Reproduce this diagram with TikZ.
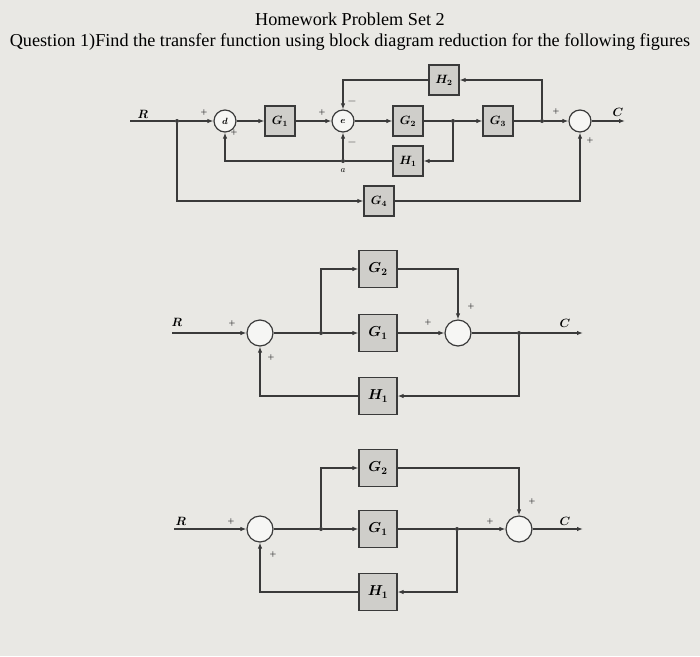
\documentclass[tikz,border=0pt]{standalone}
\usepackage{fontspec}
\setmainfont{Liberation Serif}
\usetikzlibrary{arrows.meta}
\definecolor{bg}{HTML}{E9E8E4}
\definecolor{boxc}{HTML}{CFCECA}
\definecolor{ln}{HTML}{3A3A3A}
\begin{document}
\begin{tikzpicture}[x=1pt,y=-1pt,
  blk/.style={draw=ln,fill=boxc,line width=1.2pt,minimum width=30pt,minimum height=30pt,inner sep=0pt,font=\fontsize{12}{12}\selectfont\boldmath},
  blkb/.style={blk,minimum width=38pt,minimum height=37pt,font=\fontsize{14}{14}\selectfont\boldmath},
  sm/.style={draw=ln,fill=white!60!bg,circle,line width=1.2pt,minimum size=22pt,inner sep=0pt,font=\fontsize{9}{9}\selectfont\boldmath},
  smb/.style={sm,minimum size=26pt},
  dotc/.style={circle,fill=ln,inner sep=0pt,minimum size=4pt},
  ar/.style={draw=ln,line width=1.2pt,-{Latex[length=6pt,width=4.5pt]}},
  wl/.style={draw=ln,line width=1.2pt},
  sg/.style={font=\fontsize{12}{12}\selectfont,inner sep=0pt,text=ln},
  lb/.style={font=\fontsize{12}{12}\selectfont\boldmath,inner sep=0pt}]
\fill[bg] (0,0) rectangle (700,656);
\node[font=\fontsize{18.2}{18.2}\selectfont] (t1) at (350,19) {Homework Problem Set 2};
\node[font=\fontsize{18.2}{18.2}\selectfont] (t2) at (350,42) {Question 1)Find the transfer function using block diagram reduction for the following figures};
% ---------- diagram 1
\coordinate (r1) at (130,121);
\node[lb] (R1) at (143,114) {$R$};
\node[dotc] (p1) at (177,121) {};
\node[sm] (d) at (225,121) {$d$};
\node[blk] (g1) at (280,121) {$G_1$};
\node[sm] (e) at (343,121) {$e$};
\node[blk] (g2) at (408,121) {$G_2$};
\node[dotc] (p2) at (453,121) {};
\node[blk] (g3) at (498,121) {$G_3$};
\node[dotc] (p3) at (542,121) {};
\node[sm] (s1) at (580,121) {};
\coordinate (c1) at (625,121);
\node[lb] (C1) at (618,112) {$C$};
\node[blk] (h2) at (444,80) {$H_2$};
\node[blk] (h1) at (408,161) {$H_1$};
\node[dotc] (pa) at (343,161) {};
\node[font=\fontsize{9}{9}\selectfont] (la) at (343,171) {$a$};
\node[blk] (g4) at (379,201) {$G_4$};
\draw[wl] (r1) -- (p1);
\draw[ar] (p1) -- (d);
\draw[ar] (d) -- (g1);
\draw[ar] (g1) -- (e);
\draw[ar] (e) -- (g2);
\draw[wl] (g2) -- (p2);
\draw[ar] (p2) -- (g3);
\draw[wl] (g3) -- (p3);
\draw[ar] (p3) -- (s1);
\draw[ar] (s1) -- (c1);
\draw[ar] (p3) |- (h2);
\draw[ar] (h2) -| (e);
\draw[ar] (p2) |- (h1);
\draw[wl] (h1) -- (pa);
\draw[ar] (pa) -- (e);
\draw[ar] (pa) -| (d);
\draw[ar] (p1) |- (g4);
\draw[ar] (g4) -| (s1);
\node[sg] at (204,113) {+};
\node[sg] at (234,133) {+};
\node[sg] at (322,113) {+};
\node[sg] at (352,101) {$-$};
\node[sg] at (352,142) {$-$};
\node[sg] at (556,112) {+};
\node[sg] at (590,141) {+};
% ---------- diagram 2
\coordinate (r2) at (172,333);
\node[lb] (R2) at (177,322) {$R$};
\node[smb] (s21) at (260,333) {};
\node[dotc] (p21) at (321,333) {};
\node[blkb] (g22) at (378,269) {$G_2$};
\node[blkb] (g21) at (378,333) {$G_1$};
\node[smb] (s22) at (458,333) {};
\node[dotc] (p22) at (519,333) {};
\coordinate (c2) at (583,333);
\node[lb] (C2) at (565,323) {$C$};
\node[blkb] (h21) at (378,396) {$H_1$};
\draw[ar] (r2) -- (s21);
\draw[wl] (s21) -- (p21);
\draw[ar] (p21) -- (g21);
\draw[ar] (p21) |- (g22);
\draw[ar] (g21) -- (s22);
\draw[ar] (g22) -| (s22);
\draw[wl] (s22) -- (p22);
\draw[ar] (p22) -- (c2);
\draw[ar] (p22) |- (h21);
\draw[ar] (h21) -| (s21);
\node[sg] at (232,324) {+};
\node[sg] at (271,358) {+};
\node[sg] at (428,323) {+};
\node[sg] at (471,307) {+};
% ---------- diagram 3
\coordinate (r3) at (174,529);
\node[lb] (R3) at (181,521) {$R$};
\node[smb] (s31) at (260,529) {};
\node[dotc] (p31) at (321,529) {};
\node[blkb] (g32) at (378,468) {$G_2$};
\node[blkb] (g31) at (378,529) {$G_1$};
\node[dotc] (p32) at (457,529) {};
\node[smb] (s32) at (519,529) {};
\coordinate (c3) at (583,529);
\node[lb] (C3) at (565,521) {$C$};
\node[blkb] (h31) at (378,592) {$H_1$};
\draw[ar] (r3) -- (s31);
\draw[wl] (s31) -- (p31);
\draw[ar] (p31) -- (g31);
\draw[ar] (p31) |- (g32);
\draw[wl] (g31) -- (p32);
\draw[ar] (p32) -- (s32);
\draw[ar] (g32) -| (s32);
\draw[ar] (s32) -- (c3);
\draw[ar] (p32) |- (h31);
\draw[ar] (h31) -| (s31);
\node[sg] at (231,522) {+};
\node[sg] at (273,555) {+};
\node[sg] at (490,522) {+};
\node[sg] at (532,502) {+};
\end{tikzpicture}
\end{document}
